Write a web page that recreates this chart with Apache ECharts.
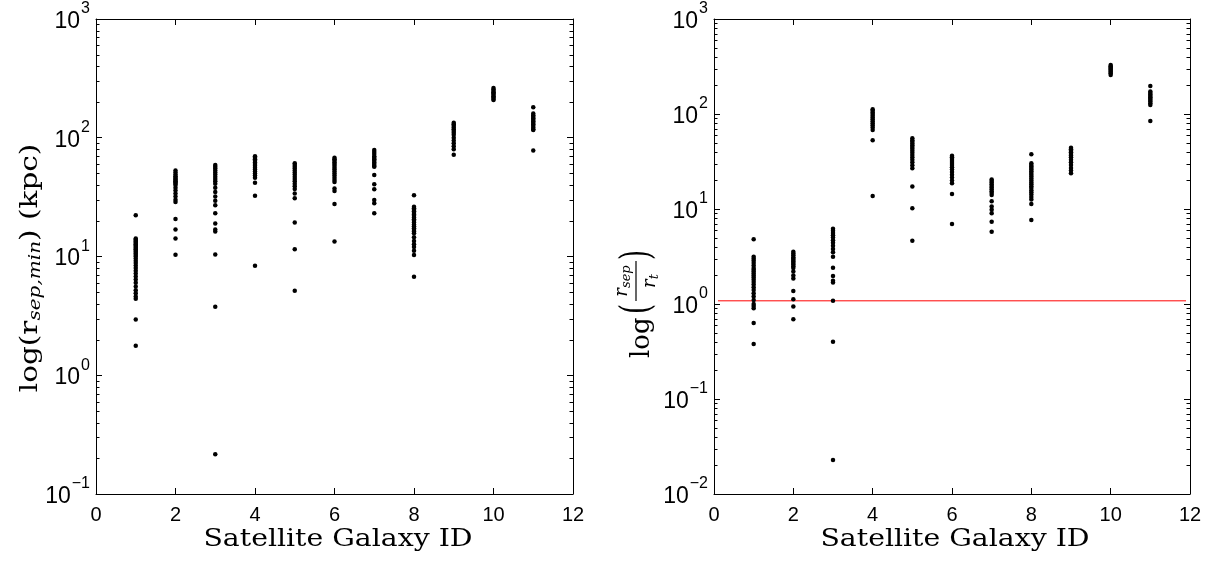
<!DOCTYPE html>
<html>
<head>
<meta charset="utf-8">
<script src="https://cdn.jsdelivr.net/npm/echarts@6/dist/echarts.min.js"></script>
<style>
html, body { margin: 0; padding: 0; background: #ffffff; }
#chart { width: 1216px; height: 562px; }
</style>
</head>
<body>
<div id="chart"></div>
<script>
// Satellite IDs along the x axis
const galaxyIds = [1, 2, 3, 4, 5, 6, 7, 8, 9, 10, 11];

// Minimum separation r_sep,min (kpc), one row per satellite
const rSepMin = [
  [22.3, 14.2, 13.9, 13.6, 13.3, 13.0, 12.7, 12.4, 12.1, 11.8, 11.5, 11.2, 10.9, 10.6, 10.3, 10.0, 9.6, 9.2, 8.8, 8.4, 8.0, 7.6, 7.2, 6.8, 6.4, 6.0, 5.6, 5.2, 4.9, 4.6, 4.4, 2.95, 1.77],
  [53, 51, 49, 47.5, 46, 45, 44, 43, 42, 41, 40, 38, 36, 34, 32, 30, 28.8, 20.7, 16.9, 14.2, 10.35],
  [59, 57, 55, 53, 51, 49, 47, 45, 43, 41, 38, 35, 32, 29.5, 27, 23.1, 19, 16.9, 16.2, 10.4, 3.78, 0.216],
  [70, 68, 66, 64, 62, 60, 58, 56, 54, 52, 50, 48, 46, 41.8, 32.5, 8.37],
  [61, 59, 57, 55, 53, 51, 49, 47, 45, 43, 41, 39, 37, 34, 30.9, 19.3, 11.5, 5.15],
  [68, 66, 64, 62, 60, 58, 56, 54, 52, 50, 48, 46, 44, 42.3, 37.3, 35.6, 27.7, 13.4],
  [79, 76, 73, 70, 68, 66, 64, 62, 60, 58, 57, 48.6, 40.5, 36.8, 29.9, 28.1, 23.1],
  [32.8, 26.3, 25.5, 24.8, 24, 23.3, 22.6, 22, 21.3, 20.6, 20, 19.3, 18.6, 18, 17.3, 16.7, 16.2, 15.7, 14.5, 13.5, 12.7, 12, 11.2, 10.3, 6.76],
  [134, 130, 126, 122, 118, 114, 110, 106, 100, 95, 90, 85, 80, 72],
  [262, 255, 248, 242, 236, 230, 224, 218, 212, 208],
  [181, 160, 155, 150, 146, 142, 138, 134, 130, 126, 122, 118, 116, 78]
];

// Ratio r_sep / r_t, one row per satellite
const sepOverTidal = [
  [4.8, 3.15, 3.0, 2.85, 2.7, 2.55, 2.4, 2.3, 2.2, 2.1, 2.0, 1.9, 1.8, 1.7, 1.6, 1.5, 1.4, 1.3, 1.2, 1.1, 1.0, 0.95, 0.9, 0.63, 0.38],
  [3.55, 3.4, 3.25, 3.1, 3.0, 2.9, 2.8, 2.7, 2.6, 2.5, 2.4, 2.2, 2.0, 1.86, 1.37, 1.12, 0.94, 0.69],
  [6.2, 5.9, 5.6, 5.3, 5.0, 4.7, 4.4, 4.1, 3.8, 3.5, 3.15, 2.41, 1.97, 1.76, 1.68, 1.08, 0.40, 0.0228],
  [112, 108, 104, 100, 96, 92, 88, 84, 80, 76, 72, 68, 53, 13.7],
  [55.5, 53, 51, 49, 47, 45, 43, 41, 39, 37, 35, 33, 31, 28.8, 26.8, 17.2, 10.2, 4.64],
  [36.4, 35, 33.5, 32, 30.5, 29, 27.5, 26, 24.5, 23, 21.5, 20, 18.7, 14.4, 6.95],
  [20.5, 19.7, 19, 18.2, 17.5, 16.8, 16.1, 15.4, 14.7, 14, 12.1, 10.6, 9.8, 9.0, 7.35, 5.77],
  [37.7, 30.3, 29, 28, 27, 26, 25, 24, 23, 22, 21, 20, 19, 18.2, 17.4, 16.6, 15.8, 15, 14.2, 13.4, 12.6, 11.3, 7.66],
  [44.2, 42.5, 41, 39.5, 38, 36.5, 35, 33, 31, 29, 27, 25.5, 23.8],
  [328, 318, 308, 300, 292, 284, 276, 268, 258],
  [197, 172, 166, 160, 155, 150, 145, 140, 135, 130, 124.5, 84.3]
];

// Reference level drawn across the right panel, and its x extent
const tidalLevel = 1.08;
const tidalLineX = [0.1, 11.9];

// Axis ranges (log decades)
const leftDecades = [-1, 3];
const rightDecades = [-2, 3];
const minorSteps = [2, 3, 4, 5, 6, 7, 8, 9];

const SANS = 'Liberation Sans, Arial, Helvetica, sans-serif';
const SERIF = 'DejaVu Serif, Liberation Serif, serif';

function toPoints(rows) {
  const pts = [];
  rows.forEach((vals, i) => vals.forEach(v => pts.push([galaxyIds[i], v])));
  return pts;
}

function minorValues(decades) {
  const out = [];
  for (let k = decades[0]; k < decades[1]; k++) {
    minorSteps.forEach(s => out.push([0, s * Math.pow(10, k)]));
  }
  return out;
}

function powerLabel(v) {
  const e = Math.round(Math.log10(v));
  return '{b|10}{e|' + (e < 0 ? '\u2212' + (-e) : e) + '}';
}

const powerRich = {
  b: { fontSize: 23, fontFamily: SANS, color: '#000', padding: [5, 0, 0, 0] },
  e: { fontSize: 16, fontFamily: SANS, color: '#000', padding: [0, 0, 20, 1] }
};

function xAxes(gridIndex) {
  return [
    {
      type: 'value', gridIndex, min: 0, max: 12, interval: 2, position: 'bottom',
      axisLine: { onZero: false, lineStyle: { color: '#000', width: 1 } },
      axisTick: { inside: true, length: 6, lineStyle: { color: '#000' } },
      axisLabel: { fontSize: 20, fontFamily: SANS, color: '#000', margin: 11 },
      splitLine: { show: false }
    },
    {
      type: 'value', gridIndex, min: 0, max: 12, interval: 2, position: 'top',
      axisLine: { onZero: false, lineStyle: { color: '#000', width: 1 } },
      axisTick: { inside: true, length: 6, lineStyle: { color: '#000' } },
      axisLabel: { show: false },
      splitLine: { show: false }
    }
  ];
}

function yAxes(gridIndex, decades) {
  const base = {
    type: 'log', logBase: 10, gridIndex,
    min: Math.pow(10, decades[0]), max: Math.pow(10, decades[1]),
    splitNumber: decades[1] - decades[0],
    axisLine: { onZero: false, lineStyle: { color: '#000', width: 1 } },
    axisTick: { inside: true, length: 6, lineStyle: { color: '#000' } },
    splitLine: { show: false }
  };
  return [
    Object.assign({}, base, {
      position: 'left',
      axisLabel: { formatter: powerLabel, rich: powerRich, fontSize: 23, fontFamily: SANS, color: '#000', margin: 6 }
    }),
    Object.assign({}, base, {
      position: 'right',
      axisLabel: { show: false }
    })
  ];
}

// Short inward ticks at 2..9 x 10^k on both vertical edges of a panel
function minorTickSeries(xAxisIndex, yAxisIndex, decades) {
  return {
    type: 'custom', xAxisIndex, yAxisIndex, silent: true, clip: false, z: 5,
    data: minorValues(decades),
    renderItem: function (params, api) {
      const y = Math.round(api.coord([0, api.value(1)])[1]) + 0.5;
      const xl = api.coord([0, 1])[0];
      const xr = api.coord([12, 1])[0];
      return {
        type: 'group',
        children: [
          { type: 'line', shape: { x1: xl, y1: y, x2: xl + 3.5, y2: y }, style: { stroke: '#000', lineWidth: 1 } },
          { type: 'line', shape: { x1: xr - 3.5, y1: y, x2: xr, y2: y }, style: { stroke: '#000', lineWidth: 1 } }
        ]
      };
    }
  };
}

const dotStyle = { color: '#000', opacity: 1 };
const subStyle = { fontFamily: SERIF, fontStyle: 'italic', fill: '#000' };

const chart = echarts.init(document.getElementById('chart'), null, { renderer: 'canvas' });

chart.setOption({
  animation: false,
  backgroundColor: '#ffffff',
  grid: [
    { left: 96, top: 19, width: 477, height: 475 },
    { left: 714, top: 19, width: 476, height: 475 }
  ],
  xAxis: [].concat(xAxes(0), xAxes(1)),
  yAxis: [].concat(yAxes(0, leftDecades), yAxes(1, rightDecades)),
  series: [
    {
      type: 'scatter', xAxisIndex: 0, yAxisIndex: 0, symbol: 'circle', symbolSize: 4.5,
      itemStyle: dotStyle, data: toPoints(rSepMin)
    },
    {
      type: 'line', xAxisIndex: 2, yAxisIndex: 2, symbol: 'none', silent: true, z: 1,
      lineStyle: { color: '#ff0000', width: 1 },
      data: tidalLineX.map(x => [x, tidalLevel])
    },
    {
      type: 'scatter', xAxisIndex: 2, yAxisIndex: 2, symbol: 'circle', symbolSize: 4.5,
      itemStyle: dotStyle, z: 3, data: toPoints(sepOverTidal)
    },
    minorTickSeries(0, 0, leftDecades),
    minorTickSeries(2, 2, rightDecades)
  ],
  graphic: [
    // x-axis titles
    {
      type: 'text', x: 338, y: 540, scaleX: 1.18,
      style: { text: 'Satellite Galaxy ID', fontSize: 24, fontFamily: SERIF, fill: '#000', align: 'center', verticalAlign: 'middle' }
    },
    {
      type: 'text', x: 955, y: 540, scaleX: 1.18,
      style: { text: 'Satellite Galaxy ID', fontSize: 24, fontFamily: SERIF, fill: '#000', align: 'center', verticalAlign: 'middle' }
    },
    // left y-axis title
    {
      type: 'text', x: 30, y: 268, rotation: Math.PI / 2, scaleX: 1.18,
      style: {
        text: '{m|log(r}{s|sep,min}{m|) (kpc)}',
        align: 'center', verticalAlign: 'middle',
        rich: {
          m: { fontSize: 25, fontFamily: SERIF, fill: '#000' },
          s: Object.assign({ fontSize: 17, padding: [12, 0, 0, 0] }, subStyle)
        }
      }
    },
    // right y-axis title: log( r_sep / r_t )
    {
      type: 'group', x: 642, y: 358, rotation: Math.PI / 2,
      children: [
        { type: 'text', x: 0, y: 0, style: { text: 'log', fontSize: 26, fontFamily: SERIF, fill: '#000', align: 'left', verticalAlign: 'middle' } },
        { type: 'text', x: 44, y: -4, scaleY: 1.6, style: { text: '(', fontSize: 26, fontFamily: SERIF, fill: '#000', align: 'left', verticalAlign: 'middle' } },
        { type: 'text', x: 77, y: -9, style: { text: '{r|r}{s|sep}', align: 'center', verticalAlign: 'bottom',
          rich: { r: Object.assign({ fontSize: 18 }, subStyle), s: Object.assign({ fontSize: 13, padding: [9, 0, 0, 0] }, subStyle) } } },
        { type: 'line', shape: { x1: 57, y1: -6, x2: 97, y2: -6 }, style: { stroke: '#000', lineWidth: 1.2 } },
        { type: 'text', x: 77, y: -3, style: { text: '{r|r}{s|t}', align: 'center', verticalAlign: 'top',
          rich: { r: Object.assign({ fontSize: 18 }, subStyle), s: Object.assign({ fontSize: 13, padding: [9, 0, 0, 0] }, subStyle) } } },
        { type: 'text', x: 98, y: -4, scaleY: 1.6, style: { text: ')', fontSize: 26, fontFamily: SERIF, fill: '#000', align: 'left', verticalAlign: 'middle' } }
      ]
    }
  ]
});
</script>
</body>
</html>
